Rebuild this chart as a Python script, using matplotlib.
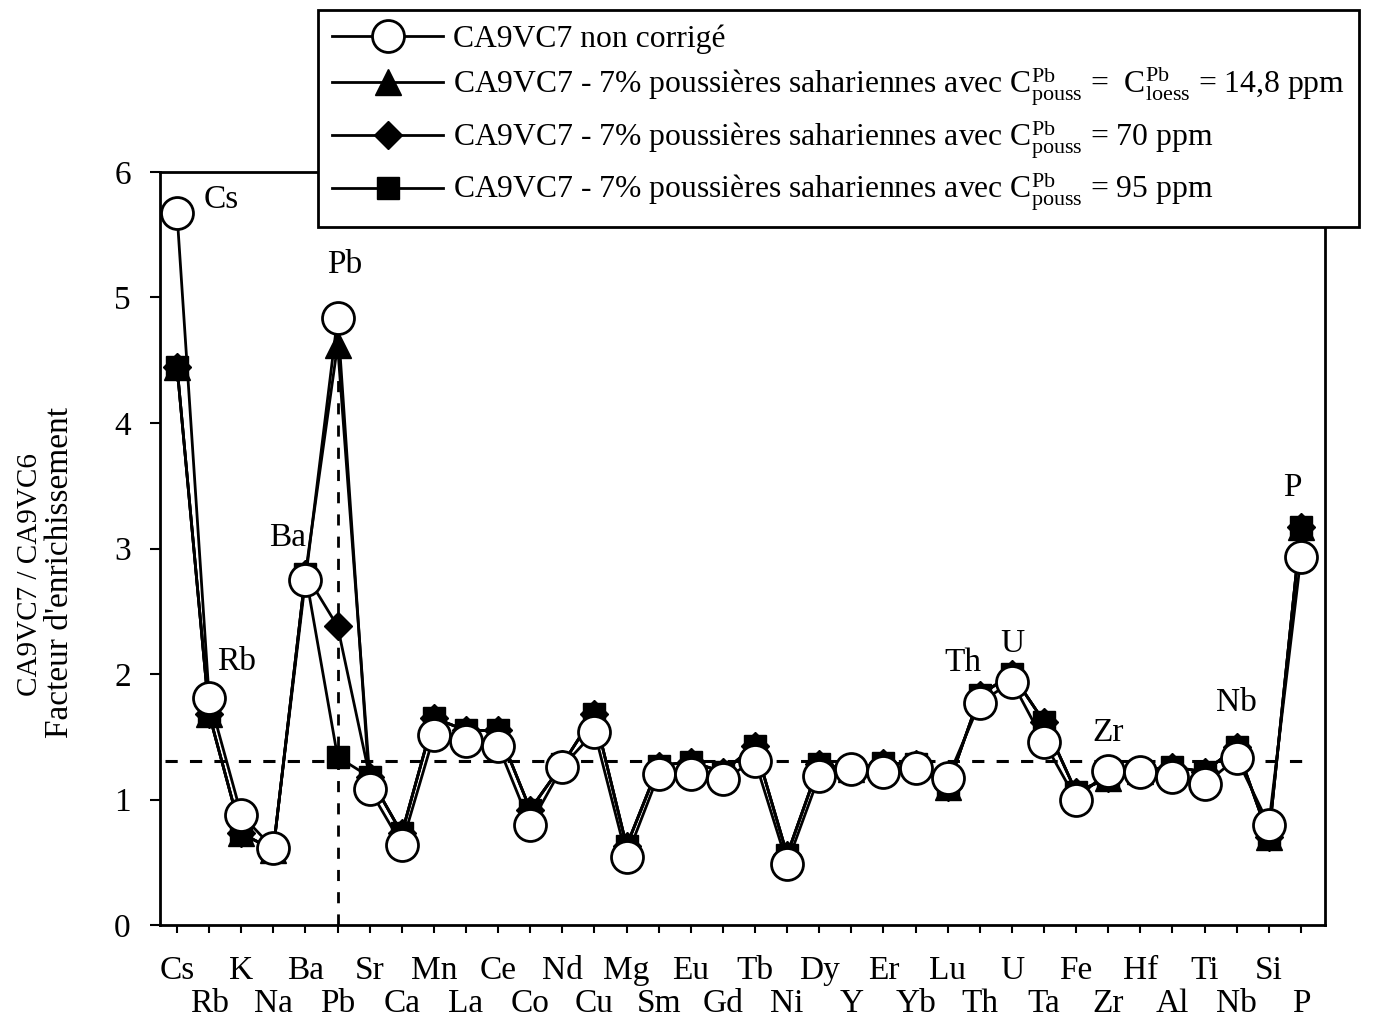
import matplotlib
matplotlib.use("Agg")
import matplotlib.pyplot as plt

plt.rcParams["font.family"] = ["Liberation Serif", "DejaVu Serif"]
plt.rcParams["mathtext.fontset"] = "custom"
plt.rcParams["mathtext.rm"] = "Liberation Serif"
plt.rcParams["mathtext.it"] = "Liberation Serif"

# éléments, dans l'ordre de l'axe
elements = ["Cs", "Rb", "K", "Na", "Ba", "Pb", "Sr", "Ca", "Mn", "La", "Ce", "Co",
            "Nd", "Cu", "Mg", "Sm", "Eu", "Gd", "Tb", "Ni", "Dy", "Y", "Er", "Yb",
            "Lu", "Th", "U", "Ta", "Fe", "Zr", "Hf", "Al", "Ti", "Nb", "Si", "P"]

non_corrige = [5.67, 1.81, 0.88, 0.61, 2.75, 4.84, 1.08, 0.64, 1.51, 1.47, 1.43, 0.80,
               1.26, 1.54, 0.54, 1.20, 1.20, 1.16, 1.31, 0.49, 1.19, 1.24, 1.22, 1.25,
               1.17, 1.77, 1.94, 1.46, 1.00, 1.23, 1.22, 1.18, 1.12, 1.33, 0.80, 2.93]

corr_loess = [4.45, 1.68, 0.73, 0.60, 2.80, 4.62, 1.18, 0.73, 1.65, 1.55, 1.55, 0.92,
              1.28, 1.68, 0.63, 1.27, 1.30, 1.22, 1.43, 0.56, 1.28, 1.24, 1.29, 1.28,
              1.10, 1.83, 2.00, 1.62, 1.06, 1.17, 1.23, 1.26, 1.22, 1.42, 0.70, 3.17]

corr_70 = [4.45, 1.68, 0.73, 0.60, 2.80, 2.38, 1.18, 0.73, 1.65, 1.55, 1.55, 0.92,
           1.28, 1.68, 0.63, 1.27, 1.30, 1.22, 1.43, 0.56, 1.28, 1.24, 1.29, 1.28,
           1.10, 1.83, 2.00, 1.62, 1.06, 1.17, 1.23, 1.26, 1.22, 1.42, 0.70, 3.17]

corr_95 = [4.45, 1.68, 0.73, 0.60, 2.80, 1.34, 1.18, 0.73, 1.65, 1.55, 1.55, 0.92,
           1.28, 1.68, 0.63, 1.27, 1.30, 1.22, 1.43, 0.56, 1.28, 1.24, 1.29, 1.28,
           1.10, 1.83, 2.00, 1.62, 1.06, 1.17, 1.23, 1.26, 1.22, 1.42, 0.70, 3.17]

seuil = 1.31        # ligne horizontale en tirets
pb_trait = 4.35     # hauteur du trait vertical sur Pb

labels_pts = {"Cs": (32, 10), "Rb": (20, 26), "Ba": (-13, 30), "Pb": (5, 38),
              "Th": (-12, 29), "U": (0, 27), "Zr": (0, 27), "Nb": (0, 40), "P": (-6, 50)}

x = list(range(len(elements)))
fig = plt.figure(figsize=(13.8, 10.21), dpi=100)
ax = fig.add_axes([160/1380, 1-925/1021, 1165/1380, 753/1021])

ax.axhline(seuil, xmin=0.004, xmax=0.985, color="black", ls=(0, (4, 4)), lw=2.2, zorder=1)
ax.plot([5, 5], [0, pb_trait], color="black", ls=(0, (4, 4)), lw=2.0, zorder=1)

kw = dict(color="black", lw=2.0, mfc="black", mec="black")
l70, = ax.plot(x, corr_70, marker="D", ms=14, zorder=2, **kw)
l95, = ax.plot(x, corr_95, marker="s", ms=16, zorder=3, **kw)
l148, = ax.plot(x, corr_loess, marker="^", ms=19, zorder=4, **kw)
l0, = ax.plot(x, non_corrige, marker="o", ms=23, color="black", lw=2.0,
              mfc="white", mec="black", mew=2.0, zorder=5)

for el, (dx, dy) in labels_pts.items():
    i = elements.index(el)
    ax.annotate(el, (i, non_corrige[i]), xytext=(dx, dy), textcoords="offset points",
                ha="center", va="center", fontsize=24)

ax.set_xlim(-0.53, 35.75)
ax.set_ylim(0, 6)
ax.set_yticks(range(7))
ax.set_xticks(x[0::2], elements[0::2])
ax.set_xticks(x[1::2], elements[1::2], minor=True)
ax.tick_params(axis="x", which="both", direction="out", length=6, width=1.5, labelsize=24)
ax.tick_params(axis="x", which="major", pad=16)
ax.tick_params(axis="x", which="minor", pad=40)
ax.tick_params(axis="y", direction="out", length=7, width=1.5, labelsize=24, pad=14)
for s in ax.spines.values():
    s.set_linewidth(2)

fig.text(30/1380, 1-575/1021, "CA9VC7 / CA9VC6", rotation=90, ha="center", va="center",
         fontsize=21)
fig.text(60/1380, 1-572/1021, "Facteur d'enrichissement", rotation=90, ha="center",
         va="center", fontsize=24)

C = r"$\mathrm{C_{pouss}^{Pb}}$"
leg = fig.legend([l0, l148, l70, l95],
                 ["CA9VC7 non corrigé",
                  "CA9VC7 - 7% poussières sahariennes avec " + C + " =  "
                  + r"$\mathrm{C_{loess}^{Pb}}$" + " = 14,8 ppm",
                  "CA9VC7 - 7% poussières sahariennes avec " + C + " = 70 ppm",
                  "CA9VC7 - 7% poussières sahariennes avec " + C + " = 95 ppm"],
                 loc="upper left", bbox_to_anchor=(318/1380, 1-10/1021), fontsize=22.8,
                 frameon=True, fancybox=False, edgecolor="black", framealpha=1,
                 handlelength=3.5, handletextpad=0.3, labelspacing=0.3, borderpad=0.45,
                 borderaxespad=0)
leg.get_frame().set_linewidth(2)

fig.savefig("out.png", dpi=100)
